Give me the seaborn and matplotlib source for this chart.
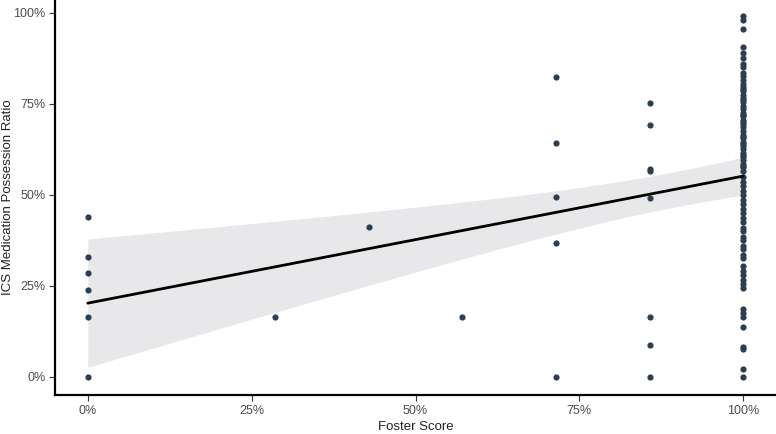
import numpy as np
import pandas as pd
import matplotlib
matplotlib.use("Agg")
import matplotlib.pyplot as plt
import seaborn as sns
from matplotlib.ticker import PercentFormatter


# Значения Foster score и доли MPR
foster_0 = [0.438, 0.328, 0.286, 0.239, 0.165, 0.0]
foster_2_7 = [0.165]
foster_3_7 = [0.412]
foster_4_7 = [0.165]
foster_5_7 = [0.824, 0.643, 0.495, 0.368, 0.0]
foster_6_7 = [0.753, 0.692, 0.572, 0.566, 0.492, 0.165, 0.088, 0.0]
foster_1 = [
    0.99, 0.98, 0.955,
    0.905, 0.89, 0.875, 0.86, 0.85,
    0.835, 0.825, 0.815, 0.805, 0.795, 0.79, 0.785, 0.775, 0.765, 0.76,
    0.755, 0.745, 0.735, 0.725, 0.72, 0.715, 0.705, 0.70, 0.695, 0.685,
    0.675, 0.665, 0.66, 0.655, 0.645, 0.64, 0.635, 0.625, 0.615, 0.61,
    0.605, 0.595, 0.585, 0.58, 0.575, 0.565,
    0.55, 0.535, 0.525, 0.51, 0.50, 0.485, 0.475, 0.46, 0.45, 0.435,
    0.425, 0.41, 0.40, 0.385, 0.375, 0.36, 0.35, 0.335, 0.325,
    0.305, 0.29, 0.28, 0.265, 0.255, 0.245,
    0.185, 0.175, 0.165,
    0.137, 0.082, 0.076, 0.022, 0.0,
]

groups = {
    0.0: foster_0,
    2 / 7: foster_2_7,
    3 / 7: foster_3_7,
    4 / 7: foster_4_7,
    5 / 7: foster_5_7,
    6 / 7: foster_6_7,
    1.0: foster_1,
}

rows = []
for score, vals in groups.items():
    for v in vals:
        rows.append({"foster": score, "mpr": v})
df = pd.DataFrame(rows)

# линейная модель с аналитическим 95% интервалом (как geom_smooth(method="lm"))
x = df["foster"].to_numpy()
y = df["mpr"].to_numpy()
n = len(x)
slope, intercept = np.polyfit(x, y, 1)
resid = y - (intercept + slope * x)
s = np.sqrt(np.sum(resid ** 2) / (n - 2))
grid = np.linspace(0, 1, 80)
se = s * np.sqrt(1 / n + (grid - x.mean()) ** 2 / np.sum((x - x.mean()) ** 2))
t_crit = 1.99
fit = pd.DataFrame({
    "foster": grid,
    "mpr": intercept + slope * grid,
    "lo": intercept + slope * grid - t_crit * se,
    "hi": intercept + slope * grid + t_crit * se,
})

sns.set_style("white")
plt.rcParams["font.family"] = ["Liberation Sans", "DejaVu Sans"]

fig = plt.figure(figsize=(7.76, 4.34), dpi=100)
ax = fig.add_axes([55 / 776, 39 / 434, 1 - 55 / 776, 1 - 39 / 434])

ax.fill_between(fit["foster"], fit["lo"], fit["hi"], color="#e8e8eb",
                linewidth=0, zorder=1)
sns.scatterplot(data=df, x="foster", y="mpr", ax=ax, color="#2c3e50",
                s=20, linewidth=0, zorder=3)
sns.lineplot(data=fit, x="foster", y="mpr", ax=ax, color="black",
             linewidth=2, zorder=4)

ax.set_xlim(-0.05, 1.05)
ax.set_ylim(-0.05, 1.035)
ax.set_xticks([0, 0.25, 0.5, 0.75, 1.0])
ax.set_yticks([0, 0.25, 0.5, 0.75, 1.0])
ax.xaxis.set_major_formatter(PercentFormatter(1.0, decimals=0))
ax.yaxis.set_major_formatter(PercentFormatter(1.0, decimals=0))

for side in ["top", "right"]:
    ax.spines[side].set_visible(False)
for side in ["left", "bottom"]:
    ax.spines[side].set_color("black")
    ax.spines[side].set_linewidth(1.6)

ax.tick_params(axis="both", length=4, width=0.8, color="#333333",
               labelsize=9, labelcolor="#4d4d4d", pad=3, bottom=True, left=True)
ax.set_xlabel("Foster Score", fontsize=9.5, color="#222222", labelpad=3)
ax.set_ylabel("ICS Medication Possession Ratio", fontsize=9.5, color="#222222",
              va="center")
ax.yaxis.set_label_coords(-47 / 721, 0.5)

fig.savefig("out.png", dpi=100)
